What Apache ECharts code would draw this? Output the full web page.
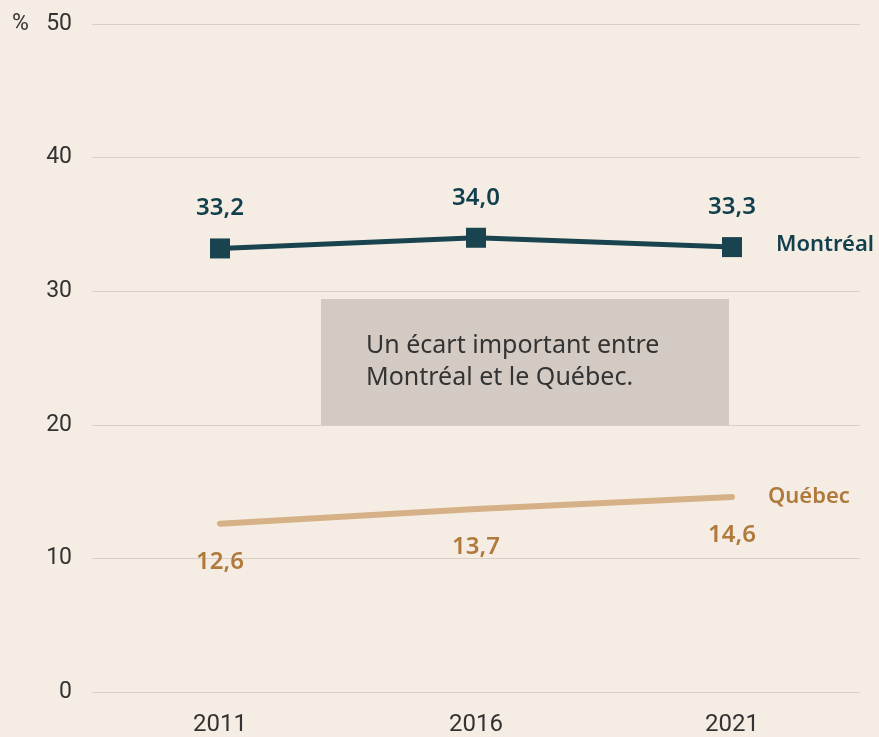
<!DOCTYPE html>
<html>
<head>
<meta charset="utf-8">
<script src="https://cdn.jsdelivr.net/npm/echarts@6/dist/echarts.min.js"></script>
<style>
  html, body { margin: 0; padding: 0; background: #f5ede3; }
  #main { width: 879px; height: 737px; }
</style>
</head>
<body>
<div id="main"></div>
<script>
var years = ['2011', '2016', '2021'];
var montreal = [33.2, 34.0, 33.3];
var quebec = [12.6, 13.7, 14.6];
var yTicks = [0, 10, 20, 30, 40, 50];
var note = ['Un écart important entre', 'Montréal et le Québec.'];

var font = '"Noto Sans", "Open Sans", sans-serif';

function fr(v) {
  return v.toFixed(1).replace('.', ',');
}

var chart = echarts.init(document.getElementById('main'));
chart.setOption({
  backgroundColor: '#f5ede3',
  animation: false,
  grid: { left: 92, right: 19, top: 24, bottom: 45 },
  xAxis: {
    type: 'category',
    data: years,
    boundaryGap: true,
    axisLine: { show: false },
    axisTick: { show: false },
    axisLabel: { color: '#333', fontSize: 24, fontFamily: 'Roboto, sans-serif', margin: 21 }
  },
  yAxis: {
    type: 'value',
    min: yTicks[0],
    max: yTicks[yTicks.length - 1],
    interval: 10,
    axisLine: { show: false },
    axisTick: { show: false },
    splitLine: { lineStyle: { color: '#d8cfc5', width: 1 } },
    axisLabel: {
      color: '#333',
      fontSize: 23,
      fontFamily: 'Roboto, sans-serif',
      margin: 20
    }
  },
  graphic: [
    {
      type: 'text',
      x: 12,
      y: 13,
      style: { text: '%', fill: '#333', fontSize: 23, fontFamily: 'Roboto, sans-serif' }
    },
    {
      type: 'rect',
      shape: { x: 321, y: 299, width: 408, height: 126 },
      style: { fill: '#d2cac3' },
      z: 1
    },
    {
      type: 'text',
      x: 366,
      y: 330,
      style: {
        text: note.join('\n'),
        fill: '#333',
        fontSize: 25,
        lineHeight: 32,
        fontFamily: font
      },
      z: 2
    }
  ],
  series: [
    {
      name: 'Montréal',
      type: 'line',
      data: montreal,
      z: 5,
      symbol: 'rect',
      symbolSize: 20,
      lineStyle: { color: '#1a4350', width: 5 },
      itemStyle: { color: '#1a4350' },
      label: {
        show: true,
        position: 'top',
        distance: 18,
        color: '#123f4d',
        fontSize: 24,
        fontWeight: 600,
        fontFamily: font,
        formatter: function (p) { return fr(p.value); }
      },
      endLabel: {
        show: true,
        formatter: '{a}',
        color: '#123f4d',
        fontSize: 22,
        fontWeight: 600,
        fontFamily: font,
        offset: [36, -2]
      }
    },
    {
      name: 'Québec',
      type: 'line',
      data: quebec,
      z: 5,
      symbol: 'none',
      showSymbol: false,
      lineStyle: { color: '#d6b086', width: 6, cap: 'round' },
      itemStyle: { color: '#d6b086' },
      label: { show: false },
      endLabel: {
        show: true,
        formatter: '{a}',
        color: '#b07a3c',
        fontSize: 22,
        fontWeight: 600,
        fontFamily: font,
        offset: [28, 0]
      },
      markPoint: {
        symbol: 'circle',
        symbolSize: 0,
        label: {
          show: true,
          position: 'bottom',
          distance: 26,
          color: '#b07a3c',
          fontSize: 24,
          fontWeight: 600,
          fontFamily: font,
          formatter: function (p) { return fr(p.value); }
        },
        data: quebec.map(function (v, i) {
          return { coord: [years[i], v], value: v };
        })
      }
    }
  ]
});
</script>
</body>
</html>
